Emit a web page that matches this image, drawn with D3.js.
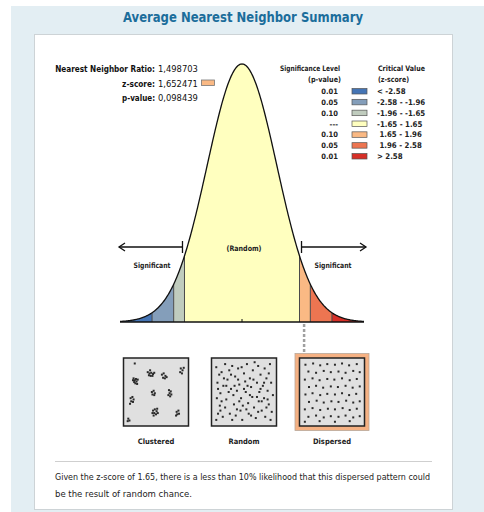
<!DOCTYPE html>
<html>
<head>
<meta charset="utf-8">
<script src="https://cdn.jsdelivr.net/npm/d3@7"></script>
<style>
body { margin: 0; background: #fff; }
svg { display: block; font-family: "DejaVu Sans Condensed", "DejaVu Sans", Verdana, sans-serif; }
</style>
</head>
<body>
<svg id="chart" width="484" height="512"></svg>
<script>
// summary values
const statLabels = ['Nearest Neighbor Ratio:', 'z-score:', 'p-value:'];
const statValues = ['1,498703', '1,652471', '0,098439'];
const zScore = 1.652471;

// legend / bands
const pLabels = ['0.01', '0.05', '0.10', '---', '0.10', '0.05', '0.01'];
const zRanges = ['< -2.58', '-2.58 - -1.96', '-1.96 - -1.65', '-1.65 - 1.65', ' 1.65 - 1.96', ' 1.96 - 2.58', '> 2.58'];
const bandColors = ['#4575B5', '#849EBA', '#C0CCBE', '#FFFFBF', '#FAB984', '#ED7551', '#D62F27'];
const breaks = [-3.5, -2.58, -1.96, -1.65, 1.65, 1.96, 2.58, 3.5];

// pattern thumbnails (points in 0-100 units)
const patterns = ['Clustered', 'Random', 'Dispersed'];
const clustered = [
    [12,28],[14,31],[16,29],[13,34],[17,33],[19,30],[15,36],[11,31],[18,37],
    [36,18],[39,20],[42,19],[45,21],[38,23],[41,24],[44,24],[47,19],[40,15],
    [60,22],[63,20],[66,24],[62,27],[65,28],[68,26],
    [92,12],[95,15],[91,18],[94,20],[97,11],
    [14,4],
    [7,60],[10,58],[12,62],[8,65],[11,66],[6,69],
    [43,50],[46,48],[48,52],[44,54],[47,55],
    [72,47],[75,49],[73,52],[76,54],[71,55],[74,57],
    [45,80],[48,78],[51,81],[47,84],[50,86],[53,84],[46,88],[52,77],[44,84],
    [85,82],[88,80],[86,86],[89,85],[84,88],
    [3,93],[5,96],[2,97]
];
const random = [
    [3,10],[8,22],[5,35],[12,18],[15,40],[10,52],[4,60],[9,72],[6,85],[3,95],
    [14,90],[18,75],[20,62],[22,30],[25,15],[28,45],[30,8],[32,55],[35,25],[33,70],
    [36,88],[40,12],[42,38],[38,48],[45,60],[44,80],[47,95],[50,20],[52,33],[55,5],
    [53,50],[57,68],[58,85],[60,28],[62,42],[65,15],[64,58],[67,75],[70,92],[72,35],
    [74,8],[76,50],[75,65],[78,22],[80,80],[82,40],[85,12],[84,60],[86,90],[88,28],
    [90,48],[92,70],[94,5],[96,35],[97,82],[99,55],[18,5],[26,85],[48,72],[68,2],
    [12,65],[24,50],[40,30],[56,40],[72,58],[88,75],[16,28],[34,40],[46,10],[62,88],
    [78,45],[92,20],[6,45],[30,95],[54,78],[80,65],[95,95],[20,40],[42,65],[60,55],
    [66,30],[84,35],[10,80],[38,78],[74,82],[50,45],[28,22],[90,62]
];
const dispersed = [
    [5,6],[18,4],[30,7],[42,5],[55,6],[67,4],[79,7],[92,5],
    [10,17],[23,19],[36,16],[48,18],[61,17],[73,19],[86,16],[97,18],
    [4,30],[17,28],[29,31],[42,29],[54,30],[67,28],[80,31],[92,29],
    [11,42],[23,40],[35,43],[48,41],[60,42],[73,40],[85,43],[97,41],
    [5,54],[17,52],[30,55],[42,53],[55,54],[67,52],[79,55],[91,53],
    [11,66],[24,64],[36,67],[49,65],[61,66],[74,64],[86,67],[97,65],
    [4,78],[17,76],[30,79],[43,77],[55,78],[68,76],[80,79],[92,77],
    [10,90],[23,88],[36,91],[48,89],[61,90],[73,88],[86,91],[97,89],
    [4,98],[29,97],[55,98],[80,97]
];
const patternPoints = [clustered, random, dispersed];

const noteLines = [
    'Given the z-score of 1.65, there is a less than 10% likelihood that this dispersed pattern could',
    'be the result of random chance.'
];

const svg = d3.select('#chart');

// fit text to a measured width
function fit (sel, w) {
    sel.attr('textLength', w).attr('lengthAdjust', 'spacingAndGlyphs');
    return sel;
}
// same, but squeeze with a transform so the box shrinks too
function squeeze (sel, w) {
    const n = sel.node().getComputedTextLength();
    const x0 = +sel.attr('x'), y0 = +sel.attr('y');
    sel.attr('x', 0).attr('y', 0)
        .attr('transform', `translate(${x0},${y0}) scale(${w / n},1)`);
    return sel;
}

// frame
svg.append('rect').attr('x', 11).attr('y', 6).attr('width', 473).attr('height', 506).attr('fill', '#e3eef3');
svg.append('rect').attr('x', 34.5).attr('y', 34.5).attr('width', 418).attr('height', 475)
    .attr('fill', '#fff').attr('stroke', '#cdd3d6');

fit(svg.append('text').attr('x', 243).attr('y', 22).attr('text-anchor', 'middle')
    .attr('font-size', 14).attr('font-weight', 'bold').attr('fill', '#1b6d9b')
    .text('Average Nearest Neighbor Summary'), 240);

// bell curve
const x = d3.scaleLinear().domain([-3.5, 3.5]).range([120, 364]);
const pdf = z => Math.exp(-z * z / 2) / Math.sqrt(2 * Math.PI);
const y = d3.scaleLinear().domain([0, pdf(0)]).range([322, 64]);

const area = d3.area().x(d => x(d)).y0(y(0)).y1(d => y(pdf(d)));
const bands = bandColors.map((c, i) => {
    const a = breaks[i], b = breaks[i + 1];
    const pts = d3.range(a, b, 0.02).concat([b]);
    return { color: c, pts };
});
svg.append('g').selectAll('path').data(bands).enter().append('path')
    .attr('d', d => area(d.pts)).attr('fill', d => d.color);

svg.append('g').selectAll('line').data(breaks.slice(1, -1)).enter().append('line')
    .attr('x1', d => x(d)).attr('x2', d => x(d))
    .attr('y1', y(0)).attr('y2', d => y(pdf(d)))
    .attr('stroke', '#4a4a4a').attr('stroke-width', 1);

const curvePts = d3.range(-3.5, 3.5001, 0.02);
svg.append('path').attr('d', d3.line().x(d => x(d)).y(d => y(pdf(d)))(curvePts))
    .attr('fill', 'none').attr('stroke', '#111').attr('stroke-width', 1.3);

svg.append('line').attr('x1', x(-3.5)).attr('x2', x(3.5)).attr('y1', y(0)).attr('y2', y(0))
    .attr('stroke', '#111').attr('stroke-width', 1.5);
svg.append('line').attr('x1', x(0)).attr('x2', x(0)).attr('y1', y(0)).attr('y2', y(0) - 3)
    .attr('stroke', '#111');

// arrows
const ay = 247;
const arrows = svg.append('g').attr('stroke', '#111').attr('stroke-width', 1.3).attr('fill', 'none');
const lx = x(-1.65) - 2, rx = x(1.65) + 2;
arrows.append('line').attr('x1', 119).attr('x2', lx).attr('y1', ay).attr('y2', ay);
arrows.append('line').attr('x1', lx).attr('x2', lx).attr('y1', ay - 6).attr('y2', ay + 6);
arrows.append('path').attr('d', `M${125},${ay - 4}L${119},${ay}L${125},${ay + 4}`);
arrows.append('line').attr('x1', rx).attr('x2', 366).attr('y1', ay).attr('y2', ay);
arrows.append('line').attr('x1', rx).attr('x2', rx).attr('y1', ay - 6).attr('y2', ay + 6);
arrows.append('path').attr('d', `M${360},${ay - 4}L${366},${ay}L${360},${ay + 4}`);

const lbl = svg.append('g').attr('font-size', 7.5).attr('font-weight', 'bold').attr('fill', '#222')
    .attr('text-anchor', 'middle');
fit(lbl.append('text').attr('x', 152).attr('y', 268).text('Significant'), 37);
fit(lbl.append('text').attr('x', 333).attr('y', 268).text('Significant'), 37);
fit(lbl.append('text').attr('x', 244).attr('y', 251).text('(Random)'), 35);

// summary stats
const stats = svg.append('g').attr('font-size', 9.5).attr('fill', '#111');
statLabels.forEach((s, i) => {
    const yy = 72 + i * 14.5;
    squeeze(stats.append('text').attr('x', 155).attr('y', yy).attr('text-anchor', 'end')
        .attr('font-weight', 'bold').text(s), i === 0 ? 100 : 33);
    squeeze(stats.append('text').attr('x', 158).attr('y', yy).text(statValues[i]), 40);
});
svg.append('rect').attr('x', 201.5).attr('y', 80).attr('width', 13).attr('height', 5.5)
    .attr('fill', '#FAB984').attr('stroke', '#777').attr('stroke-width', 0.8);

// legend
const leg = svg.append('g').attr('font-size', 7.5).attr('font-weight', 'bold').attr('fill', '#222');
fit(leg.append('text').attr('x', 340).attr('y', 71).attr('text-anchor', 'end').text('Significance Level'), 60);
fit(leg.append('text').attr('x', 341).attr('y', 82).attr('text-anchor', 'end').text('(p-value)'), 33);
fit(leg.append('text').attr('x', 378).attr('y', 71).text('Critical Value'), 47);
fit(leg.append('text').attr('x', 378).attr('y', 82).text('(z-score)'), 31);

const rowY = d3.scalePoint().domain(d3.range(7)).range([91, 156]);
const rows = leg.selectAll('g.row').data(d3.range(7)).enter().append('g')
    .attr('transform', i => `translate(0,${rowY(i)})`);
rows.append('text').attr('x', 338).attr('y', 3).attr('text-anchor', 'end')
    .text(i => pLabels[i]);
rows.append('rect').attr('x', 352).attr('y', -2.5).attr('width', 15).attr('height', 5.5)
    .attr('fill', i => bandColors[i]).attr('stroke', '#555').attr('stroke-width', 0.7);
rows.append('text').attr('x', 377).attr('y', 3).attr('font-size', 7.8)
    .text(i => zRanges[i].replace(/^ /, '\u00a0'));

// link from z-score to dispersed
svg.append('line').attr('x1', x(zScore) + 4.5).attr('x2', x(zScore) + 4.5)
    .attr('y1', y(0) + 2).attr('y2', 353)
    .attr('stroke', '#a0a0a0').attr('stroke-width', 2.5).attr('stroke-dasharray', '3,2');

// pattern thumbnails
const px = d3.scalePoint().domain(patterns).range([156, 332]);
const sw = 65, sh = 68, thumbTop = 358;
const u = d3.scaleLinear().domain([0, 100]).range([3, sw - 3]);
const v = d3.scaleLinear().domain([0, 100]).range([3, sh - 3]);

const thumb = svg.selectAll('g.thumb').data(patterns).enter().append('g')
    .attr('transform', d => `translate(${px(d) - sw / 2},${thumbTop})`);
thumb.filter(d => d === 'Dispersed').append('rect')
    .attr('x', -4.5).attr('y', -4.5).attr('width', sw + 9).attr('height', sh + 9)
    .attr('fill', '#F5B183').attr('stroke', '#b9a79a').attr('stroke-width', 0.8);
thumb.append('rect').attr('width', sw).attr('height', sh)
    .attr('fill', '#e0e0e0').attr('stroke', '#222').attr('stroke-width', 1.5);
thumb.each(function (d, i) {
    d3.select(this).selectAll('rect.pt').data(patternPoints[i]).enter().append('rect')
        .attr('x', p => u(p[0]) - 1).attr('y', p => v(p[1]) - 1)
        .attr('width', 2).attr('height', 2).attr('fill', '#2a2a2a');
});
thumb.append('text').attr('x', sw / 2).attr('y', sh + 18).attr('text-anchor', 'middle')
    .attr('font-size', 7.5).attr('font-weight', 'bold').attr('fill', '#222')
    .text(d => d);

// note
svg.append('line').attr('x1', 55).attr('x2', 432).attr('y1', 461.5).attr('y2', 461.5)
    .attr('stroke', '#cfcfcf');
const note = svg.append('g').attr('font-size', 9.5).attr('fill', '#222');
fit(note.append('text').attr('x', 55).attr('y', 480).text(noteLines[0]), 375);
fit(note.append('text').attr('x', 55).attr('y', 497).text(noteLines[1]), 137);
</script>
</body>
</html>
